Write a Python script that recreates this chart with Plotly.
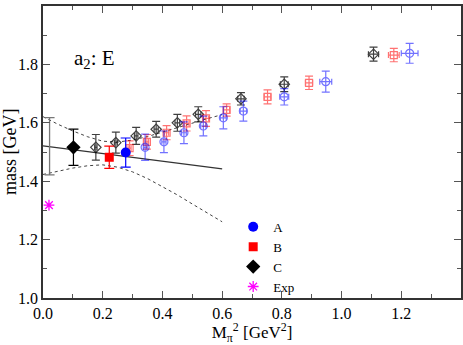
import plotly.graph_objects as go

# ensemble A (blue)
a_fill_x = [0.277]
a_fill_y = [1.498]
a_fill_err = [0.050]
a_x = [0.342, 0.405, 0.472, 0.537, 0.604, 0.671, 0.808, 0.947, 1.228]
a_y = [1.516, 1.535, 1.566, 1.589, 1.617, 1.640, 1.689, 1.741, 1.838]
a_err = [0.045, 0.037, 0.037, 0.034, 0.038, 0.034, 0.028, 0.036, 0.034]
a_xerr = [0.006, 0.007, 0.008, 0.009, 0.010, 0.011, 0.015, 0.020, 0.028]

# ensemble B (red)
b_fill_x = [0.222]
b_fill_y = [1.482]
b_fill_err = [0.038]
b_x = [0.290, 0.348, 0.414, 0.481, 0.546, 0.615, 0.752, 0.891, 1.175]
b_y = [1.513, 1.535, 1.566, 1.598, 1.615, 1.644, 1.689, 1.737, 1.832]
b_err = [0.025, 0.025, 0.024, 0.026, 0.027, 0.021, 0.024, 0.023, 0.023]
b_xerr = [0.005, 0.006, 0.007, 0.008, 0.009, 0.010, 0.011, 0.012, 0.018]

# ensemble C (black)
c_fill_x = [0.102]
c_fill_y = [1.516]
c_fill_err = [0.062]
c_x = [0.177, 0.244, 0.312, 0.379, 0.450, 0.520, 0.663, 0.808, 1.107]
c_y = [1.516, 1.532, 1.555, 1.578, 1.600, 1.629, 1.682, 1.732, 1.835]
c_err = [0.044, 0.036, 0.029, 0.027, 0.029, 0.026, 0.021, 0.025, 0.024]
c_xerr = [0.004, 0.005, 0.006, 0.007, 0.008, 0.009, 0.011, 0.013, 0.017]

# experiment
exp_x = [0.02]
exp_y = [1.318]

# chiral fit: central line, error band, extrapolated value
fit_x = [0.0, 0.6]
fit_y = [1.521, 1.442]
band_x = [0.0, 0.05, 0.1, 0.15, 0.2, 0.25, 0.3, 0.35, 0.4, 0.45, 0.5, 0.55, 0.6]
band_hi = [1.621, 1.595, 1.572, 1.552, 1.537, 1.534, 1.541, 1.553, 1.568, 1.584, 1.600, 1.614, 1.628]
band_lo = [1.423, 1.435, 1.445, 1.453, 1.456, 1.448, 1.432, 1.409, 1.381, 1.353, 1.322, 1.292, 1.261]
extrap_x = [0.022]
extrap_y = [1.520]
extrap_err = [0.098]

BLUE = "#0000ff"
RED = "#ff0000"
SERIF = "Liberation Serif, Times New Roman, serif"

fig = go.Figure()

# fit lines
fig.add_trace(go.Scatter(x=band_x, y=band_hi, mode="lines", showlegend=False,
                         line=dict(color="#444444", width=1, dash="3px,3px")))
fig.add_trace(go.Scatter(x=band_x, y=band_lo, mode="lines", showlegend=False,
                         line=dict(color="#444444", width=1, dash="3px,3px")))
fig.add_trace(go.Scatter(x=fit_x, y=fit_y, mode="lines", showlegend=False,
                         line=dict(color="#333333", width=1.3)))
fig.add_trace(go.Scatter(
    x=extrap_x, y=extrap_y, mode="markers", showlegend=False,
    marker=dict(size=1, color="rgba(0,0,0,0)"),
    error_y=dict(type="data", array=extrap_err, color="#777777", thickness=1.3, width=5),
))

# open symbols (other ensembles' larger pion masses)
def open_trace(x, y, err, xerr, color, symbol, size, opacity):
    return go.Scatter(
        x=x, y=y, mode="markers", showlegend=False, opacity=opacity,
        marker=dict(symbol=symbol, size=size, color=color, line=dict(color=color, width=1.2)),
        error_y=dict(type="data", array=err, color=color, thickness=1.2, width=4),
        error_x=dict(type="data", array=xerr, color=color, thickness=1.2, width=3),
    )

fig.add_trace(open_trace(c_x, c_y, c_err, c_xerr, "#000000", "diamond-open", 8, 0.75))
fig.add_trace(open_trace(b_x, b_y, b_err, b_xerr, RED, "square-open", 7, 0.55))
fig.add_trace(open_trace(a_x, a_y, a_err, a_xerr, BLUE, "circle-open", 8, 0.55))

# filled symbols
def filled_trace(name, x, y, err, color, symbol, size):
    return go.Scatter(
        x=x, y=y, mode="markers", name=name,
        marker=dict(symbol=symbol, size=size, color=color),
        error_y=dict(type="data", array=err, color=color, thickness=1.2, width=5),
    )

fig.add_trace(filled_trace("A", a_fill_x, a_fill_y, a_fill_err, BLUE, "circle", 10))
fig.add_trace(filled_trace("B", b_fill_x, b_fill_y, b_fill_err, RED, "square", 9))
fig.add_trace(filled_trace("C", c_fill_x, c_fill_y, c_fill_err, "#000000", "diamond", 11))
fig.add_trace(go.Scatter(
    x=exp_x, y=exp_y, mode="markers", name="Exp",
    marker=dict(symbol="asterisk-open", size=9, color="#ff00ff",
                line=dict(color="#ff00ff", width=1.3)),
))

axis_common = dict(
    showgrid=False, zeroline=False, showline=True, linecolor="#333333", linewidth=1.5,
    mirror="allticks", ticks="inside", ticklen=7, tickcolor="#555555", tickwidth=1.2,
    tickfont=dict(family=SERIF, size=16, color="#000000"), automargin=False,
)

fig.update_xaxes(
    range=[0, 1.4], tickvals=[0, 0.2, 0.4, 0.6, 0.8, 1.0, 1.2], tickformat=".1f",
    minor=dict(ticks="inside", ticklen=4, dtick=0.1, tick0=0, tickcolor="#555555"),
    title=dict(text="M<sub>π</sub><sup>2</sup> [GeV<sup>2</sup>]",
               font=dict(family=SERIF, size=17, color="#000000"), standoff=4),
    **axis_common,
)
fig.update_yaxes(
    range=[1.0, 2.0], tickvals=[1.0, 1.2, 1.4, 1.6, 1.8, 2.0], tickformat=".1f",
    minor=dict(ticks="inside", ticklen=4, dtick=0.1, tick0=1.0, tickcolor="#555555"),
    **axis_common,
)

# y-axis title placed as an annotation, left of the tick labels
fig.add_annotation(
    text="mass [GeV]", xref="paper", yref="paper", x=-0.079, y=0.5,
    xanchor="center", yanchor="middle", textangle=-90, showarrow=False,
    font=dict(family=SERIF, size=18, color="#000000"),
)

fig.add_annotation(
    text="a<sub>2</sub>: E", xref="paper", yref="paper", x=0.07, y=0.82,
    xanchor="left", yanchor="middle", showarrow=False,
    font=dict(family=SERIF, size=21, color="#000000"),
)

fig.update_layout(
    width=463, height=345,
    margin=dict(l=43, r=2, t=6, b=47),
    paper_bgcolor="white", plot_bgcolor="white",
    font=dict(family=SERIF, color="#000000"),
    legend=dict(x=0.455, y=0.295, xanchor="left", yanchor="top", bgcolor="rgba(0,0,0,0)",
                font=dict(family=SERIF, size=13), tracegroupgap=0, itemwidth=30),
)

# the page body has a default 8px margin; remove it so the figure sits at the corner
fig.write_html("out.html", config={"displayModeBar": False},
               post_script="document.body.style.margin='0';")
